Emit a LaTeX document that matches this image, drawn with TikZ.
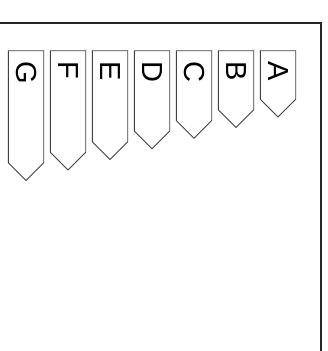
\documentclass[tikz,border=0pt]{standalone}
\usepackage{fontspec}
\setmainfont{Liberation Sans}
\begin{document}
\begin{tikzpicture}[x=1pt,y=-1pt,
  tab/.style={draw=black!75,line width=0.9pt,fill=white},
  frame/.style={draw=black!85,line width=1.8pt},
  lbl/.style={rotate=-90,anchor=west,inner sep=0pt,font=\fontsize{29}{29}\selectfont}]
\useasboundingbox (0,0) rectangle (327,351);
\draw[frame] (-5,23) -- (321,23) -- (321,360);
\foreach \L [count=\i from 0] in {A,B,C,D,E,F,G}{
  \pgfmathsetmacro{\xl}{260.3-42*\i}
  \pgfmathsetmacro{\xr}{\xl+35.4}
  \pgfmathsetmacro{\xc}{\xl+17.7}
  \pgfmathsetmacro{\sh}{99.3+10.6*\i}
  \pgfmathsetmacro{\tp}{\sh+17.7}
  \draw[tab] (\xl,50.7) -- (\xr,50.7) -- (\xr,\sh) -- (\xc,\tp) -- (\xl,\sh) -- cycle;
  \node[lbl] (l\L) at (\xc,61) {\L};
}
\end{tikzpicture}
\end{document}
